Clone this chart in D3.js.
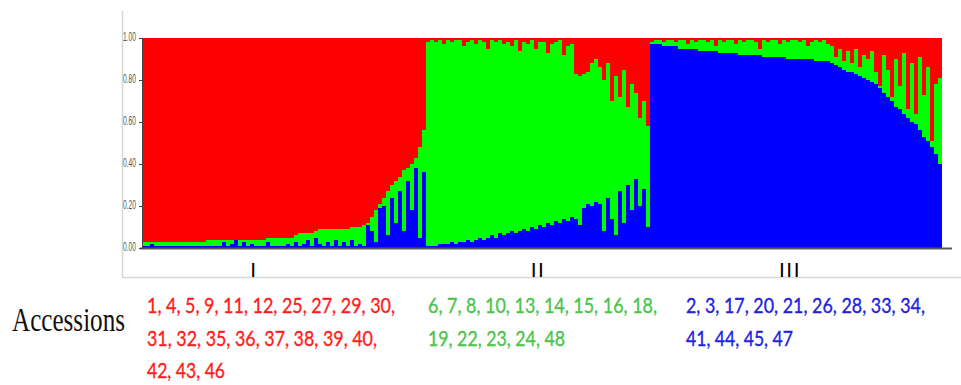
<!DOCTYPE html>
<html><head><meta charset="utf-8">
<script src="https://cdn.jsdelivr.net/npm/d3@7"></script>
<style>html,body{margin:0;padding:0;background:#fff;} svg{display:block}</style>
</head><body><svg id="c" width="961" height="385"></svg>
<script>
// ---------------- data ----------------
const clusterLabels = ["I", "II", "III"];
const clusterSizes = [71, 56, 73];
// membership (percent) of each individual, sorted by cluster as in the plot
const blueQ = [
  // cluster I
  1,1,2,1,1,1,1,1,1,1,1,1,1,1,1,1,1, 1,1,1,3,1,2,4,1,3,1,2,1,1,1,3,1,1,1,1,2,1,
  3,1,2,4,1,5,2,1,3,1,4,1,3,1,4,1,2,1, 11,8,3,19,20,6,24,12,27,8,32,18,38,5,36,
  // cluster II
  1,1,1,2,2,2,3,2,3,3, 4,3,4,5,4,5,6,5,7,6, 7,8,7,8,9,8,10,9,11,10,
  12,11,13,12,14,13,15,14,11,19, 21,20,22,21,8,24,14,6,27,12, 30,18,33,20,28,10,
  // cluster III
  97,97,97,96,96,96,96,95,95,95, 95,95,94,94,94,94,94,93,93,93, 93,93,92,92,92,92,92,92,91,91,
  91,91,91,91,90,90,90,90,90,90, 90,89,89,89,89,88,87,86,85,84, 84,83,82,81,80,79,78,76,74,72,
  70,67,66,64,62,60,59,56,53,51, 48,45,40
];
const greenQ = [
  // cluster I
  2,2,1,2,2,2,2,2,2,2,2,2,2,2,2,2,3, 3,3,3,1,3,2,0,3,1,3,2,3,3,3,2,4,4,4,4,3,4,
  3,6,5,3,6,3,7,8,6,8,5,8,6,8,6,9,8,10, 1,7,15,2,4,21,6,20,7,29,6,22,5,43,20,
  // cluster II
  97,98,97,97,95,97,95,97,96,93, 94,96,93,94,94,90,93,93,92,91, 91,88,92,86,89,89,89,86,87,88,
  81,86,85,87,78,83,82,69,71,64, 63,68,68,65,72,64,56,76,45,73, 37,60,41,42,42,48,
  // cluster III
  1,2,2,2,3,3,2,4,4,2, 4,3,5,5,4,5,2,6,5,6, 6,4,7,6,7,7,6,3,8,7,
  8,8,6,8,8,9,9,8,9,6, 8,10,9,10,8,8,4,9,4,10, 4,12,4,11,10,15,6,1,18,13,
  2,23,11,29,4,28,5,35,20,35, 3,33,41
];
const redQ = [
  // cluster I
  97,97,97,97,97,97,97,97,97,97,97,97,97,97,97,97,96,
  96,96,96,96,96,96,96,96,96,96,96,96,96,96,95,95,95,95,95,95,95,
  94,93,93,93,93,92,91,91,91,91,91,91,91,91,90,90,90,89,
  88,85,82,79,76,73,70,68,66,63,62,60,57,52,44,
  // cluster II
  2,1,2,1,3,1,2,1,1,4, 2,1,3,1,2,5,1,2,1,3, 2,4,1,6,2,3,1,5,2,2,
  7,3,2,1,8,4,3,17,18,17, 16,12,10,14,20,12,30,18,28,15, 33,22,26,38,30,42,
  // cluster III
  2,1,1,2,1,1,2,1,1,3, 1,2,1,1,2,1,4,1,2,1, 1,3,1,2,1,1,2,5,1,2,
  1,1,3,1,2,1,1,2,1,4, 2,1,2,1,3,4,9,5,11,6, 12,5,14,8,10,6,16,23,8,15,
  28,10,23,7,34,12,36,9,27,14, 49,22,19
];
const yTicks = [0, 0.2, 0.4, 0.6, 0.8, 1.0];
const yAxisLabel = "Accessions";
const accessionLines = [
  ["1, 4, 5, 9, 11, 12, 25, 27, 29, 30,", "31, 32, 35, 36, 37, 38, 39, 40,", "42, 43, 46"],
  ["6, 7, 8, 10, 13, 14, 15, 16, 18,", "19, 22, 23, 24, 48"],
  ["2, 3, 17, 20, 21, 26, 28, 33, 34,", "41, 44, 45, 47"]
];

// ---------------- layout / style ----------------
const colors = {blue: "#0000fe", green: "#00ff00", red: "#ff0000"};
const textColors = ["#ff1c1c", "#4cc44c", "#2222e0"];
const plot = {left: 142, right: 942, top: 38, bottom: 248};

const svg = d3.select("#c");

const table = blueQ.map((b, i) => ({id: i, blue: b / 100, green: greenQ[i] / 100, red: redQ[i] / 100}));
const stack = d3.stack().keys(["blue", "green", "red"]);
const series = stack(table);

const x = d3.scaleBand().domain(table.map(d => d.id)).range([plot.left, plot.right]).padding(0);
const y = d3.scaleLinear().domain([0, 1]).range([plot.bottom, plot.top]);

// frame lines (light grey)
svg.append("line").attr("x1", 122.5).attr("x2", 122.5).attr("y1", 11).attr("y2", 277.5)
  .attr("stroke", "#d6d6d6").attr("stroke-width", 1.5);
svg.append("line").attr("x1", 122).attr("x2", 961).attr("y1", 277.5).attr("y2", 277.5)
  .attr("stroke", "#d6d6d6").attr("stroke-width", 1.5);

// bars
svg.append("g").attr("shape-rendering", "crispEdges")
  .selectAll("g").data(series).join("g")
  .attr("fill", s => colors[s.key])
  .selectAll("rect").data(s => s).join("rect")
  .attr("x", d => x(d.data.id))
  .attr("width", x.bandwidth())
  .attr("y", d => y(d[1]))
  .attr("height", d => Math.max(0, y(d[0]) - y(d[1])));

// baseline
svg.append("line").attr("x1", plot.left - 2).attr("x2", 952).attr("y1", 248.5).attr("y2", 248.5)
  .attr("stroke", "#5a5a5a").attr("stroke-width", 2);

// y axis
const yAxis = svg.append("g").attr("transform", `translate(${plot.left},0)`)
  .call(d3.axisLeft(y).tickValues(yTicks).tickFormat(d3.format(".2f")).tickSize(3).tickPadding(3));
yAxis.select(".domain").attr("stroke", "#444").attr("stroke-width", 1);
yAxis.selectAll(".tick line").attr("stroke", "#444");
yAxis.selectAll(".tick text")
  .attr("font-family", "'Liberation Sans Narrow', 'Liberation Sans', sans-serif")
  .attr("font-size", 13.5).attr("fill", "#555")
  .attr("dy", "0.2em")
  .attr("textLength", 13).attr("lengthAdjust", "spacingAndGlyphs");

// cluster labels
const clusterLabelAt = [27.5, 99, 162];
svg.append("g").selectAll("text").data(clusterLabels).join("text")
  .attr("x", (d, i) => x(Math.round(clusterLabelAt[i])))
  .attr("y", 277)
  .attr("text-anchor", "middle")
  .attr("font-family", "'Liberation Sans', Arial, sans-serif")
  .attr("font-size", 21)
  .attr("letter-spacing", 1.5)
  .attr("fill", "#000")
  .text(d => d);

// "Accessions"
svg.append("text").attr("x", 12).attr("y", 331)
  .attr("font-family", "'Liberation Serif', 'Times New Roman', serif")
  .attr("font-size", 34).attr("fill", "#111")
  .attr("textLength", 113).attr("lengthAdjust", "spacingAndGlyphs")
  .text(yAxisLabel);

// accession lists
const listX = [147, 428, 686];
const listW = [[248, 230, 78], [229, 137], [239, 107]];
const lineY = [313, 346, 378];
accessionLines.forEach((lines, g) => {
  svg.append("g").selectAll("text").data(lines).join("text")
    .attr("x", listX[g])
    .attr("y", (d, i) => lineY[i])
    .attr("font-family", "Lato, 'Open Sans', sans-serif")
    .attr("font-size", 21.5)
    .attr("fill", textColors[g])
    .attr("stroke", textColors[g])
    .attr("stroke-width", 0.35)
    .attr("textLength", (d, i) => listW[g][i])
    .attr("lengthAdjust", "spacingAndGlyphs")
    .text(d => d);
});
</script>
</body></html>
